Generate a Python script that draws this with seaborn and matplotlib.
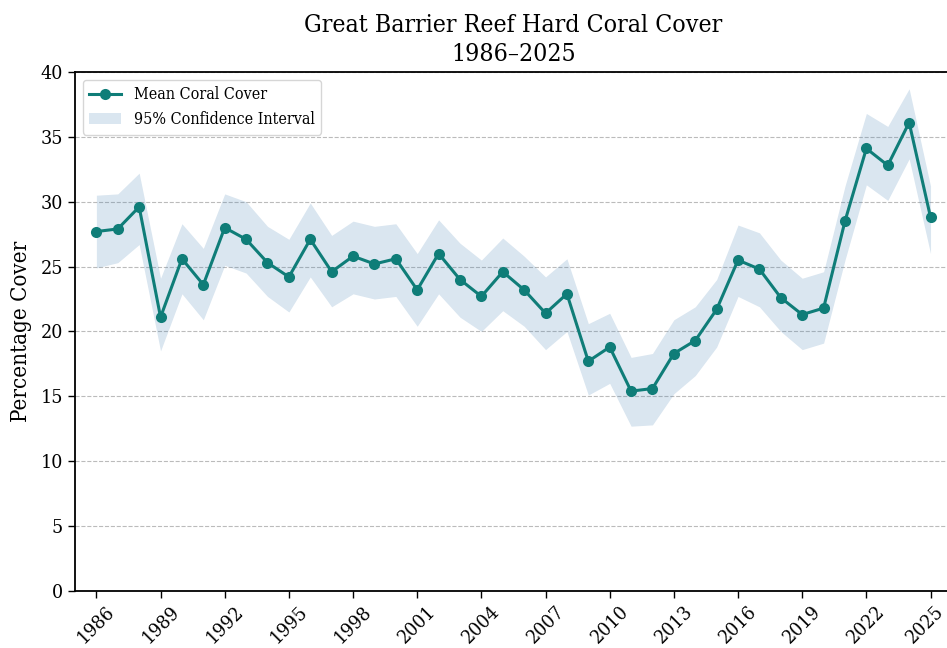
import matplotlib
matplotlib.use("Agg")
import matplotlib.pyplot as plt
import matplotlib.transforms as mtransforms
import seaborn as sns
import pandas as pd

# Annual mean hard coral cover (%) and its 95% confidence bounds
years = list(range(1986, 2026))
mean_cover = [27.7, 27.9, 29.6, 21.1, 25.6, 23.6, 28.0, 27.1, 25.3, 24.2,
              27.1, 24.6, 25.8, 25.2, 25.6, 23.2, 26.0, 24.0, 22.7, 24.6,
              23.2, 21.4, 22.9, 17.7, 18.8, 15.4, 15.6, 18.3, 19.3, 21.7,
              25.5, 24.8, 22.6, 21.3, 21.8, 28.5, 34.1, 32.8, 36.1, 28.8]
ci_upper = [30.5, 30.6, 32.2, 24.1, 28.3, 26.4, 30.6, 30.0, 28.1, 27.1,
            29.9, 27.4, 28.5, 28.1, 28.3, 26.0, 28.6, 26.8, 25.5, 27.2,
            25.8, 24.2, 25.6, 20.6, 21.4, 18.0, 18.3, 20.9, 21.9, 24.0,
            28.2, 27.6, 25.5, 24.1, 24.6, 31.2, 36.8, 35.8, 38.7, 31.2]
ci_lower = [24.9, 25.3, 26.7, 18.5, 22.9, 20.9, 25.1, 24.5, 22.7, 21.5,
            24.2, 21.9, 22.9, 22.5, 22.7, 20.4, 22.9, 21.1, 20.0, 21.6,
            20.4, 18.6, 20.0, 15.1, 16.0, 12.7, 12.8, 15.2, 16.6, 18.8,
            22.7, 21.9, 20.0, 18.6, 19.1, 25.5, 31.3, 30.1, 33.3, 26.0]
tick_years = list(range(1986, 2026, 3))

df = pd.DataFrame({"Year": years, "Mean": mean_cover,
                   "Lower": ci_lower, "Upper": ci_upper})

plt.rcParams["font.family"] = ["DejaVu Serif Condensed", "DejaVu Serif"]
plt.rcParams["font.stretch"] = "condensed"

fig = plt.figure(figsize=(9.47, 6.48), dpi=100)
ax = fig.add_axes([0.0792, 0.088, 0.926, 0.801])

line_color = "#0f7d78"
ax.fill_between(df["Year"], df["Lower"], df["Upper"], color="#4682b4",
                alpha=0.2, linewidth=0, label="95% Confidence Interval",
                zorder=1)
sns.lineplot(data=df, x="Year", y="Mean", ax=ax, color=line_color,
             marker="o", markersize=8, markeredgewidth=0, linewidth=2.2,
             label="Mean Coral Cover", zorder=3)

ax.set_xlim(1985, 2026)
ax.set_ylim(0, 40)
ax.set_yticks(range(0, 41, 5))
ax.set_xticks(tick_years)
ax.set_xticklabels([str(y) for y in tick_years], rotation=45, ha="center")
ax.tick_params(axis="both", labelsize=14, length=5, width=1)
ax.tick_params(axis="x", pad=3)

# nudge the last year label so it stays inside the canvas
last = ax.get_xticklabels()[-1]
last.set_transform(last.get_transform() +
                   mtransforms.ScaledTranslation(-5 / 100, 0, fig.dpi_scale_trans))

ax.yaxis.grid(True, linestyle="--", color="#bbbbbb", linewidth=0.8)
ax.set_axisbelow(True)
for s in ax.spines.values():
    s.set_linewidth(1.3)

ax.set_xlabel("")
ax.set_ylabel("Percentage Cover", fontsize=16, labelpad=6)
ax.set_title("Great Barrier Reef Hard Coral Cover\n1986\u20132025",
             fontsize=17.8, pad=8, linespacing=1.35)

handles, labels = ax.get_legend_handles_labels()
order = [labels.index("Mean Coral Cover"), labels.index("95% Confidence Interval")]
ax.legend([handles[i] for i in order], [labels[i] for i in order],
          loc="upper left", fontsize=11.5, frameon=True, framealpha=0.8,
          edgecolor="#cccccc")

fig.savefig("out.png", dpi=100)
